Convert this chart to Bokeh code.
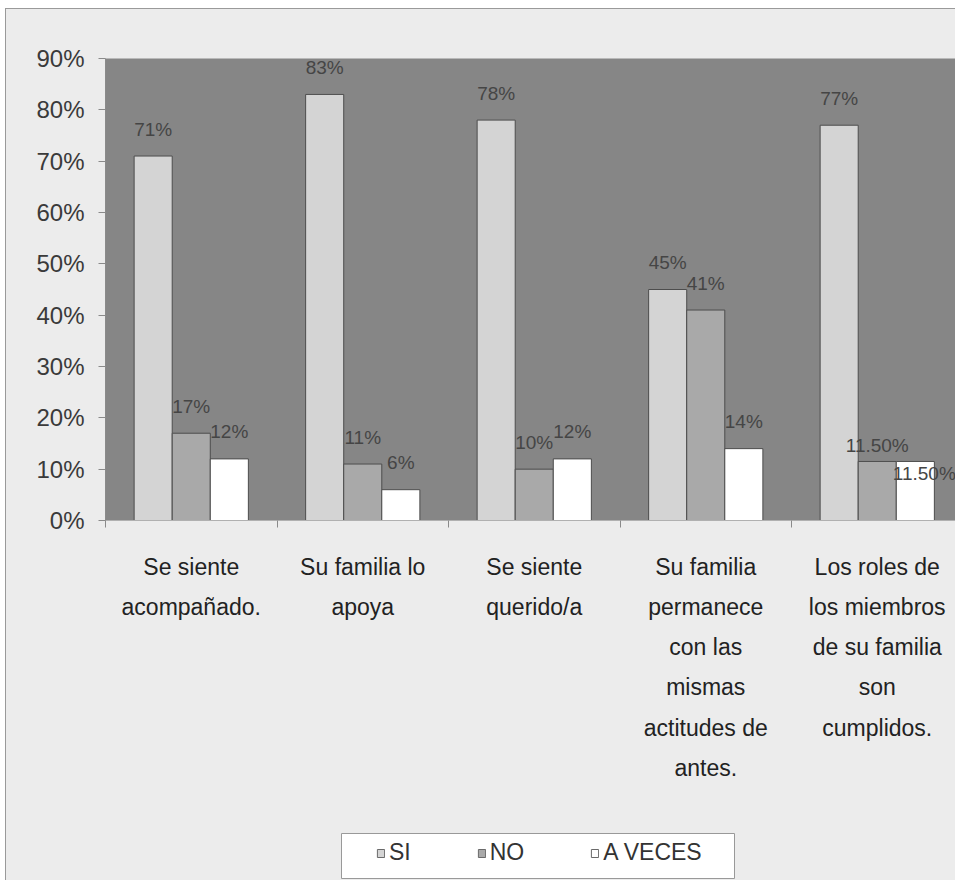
from bokeh.plotting import figure
from bokeh.layouts import column
from bokeh.core.properties import value
from bokeh.models import (Range1d, LinearAxis, FixedTicker, ColumnDataSource, LabelSet,
                          Legend, LegendItem, NumeralTickFormatter)
from bokeh.embed import file_html
from bokeh.resources import INLINE

categories = ["Se siente\nacompañado.", "Su familia lo\napoya", "Se siente\nquerido/a",
              "Su familia\npermanece\ncon las\nmismas\nactitudes de\nantes.",
              "Los roles de\nlos miembros\nde su familia\nson\ncumplidos."]
series_names = ["SI", "NO", "A VECES"]
si = [0.71, 0.83, 0.78, 0.45, 0.77]
no = [0.17, 0.11, 0.10, 0.41, 0.115]
a_veces = [0.12, 0.06, 0.12, 0.14, 0.115]
si_labels = ["71%", "83%", "78%", "45%", "77%"]
no_labels = ["17%", "11%", "10%", "41%", "11.50%"]
av_labels = ["12%", "6%", "12%", "14%", "11.50%"]
y_ticks = [0, 0.1, 0.2, 0.3, 0.4, 0.5, 0.6, 0.7, 0.8, 0.9]

FONT = "Liberation Sans"
BG = "#ececec"
colors = ["#d4d4d4", "#a9a9a9", "#ffffff"]
bar_w = 0.222
offsets = [-bar_w, 0.0, bar_w]
# label offsets in screen px (style): default 27 px above top
label_dy = [[27] * 5, [27, 27, 27, 27, 16], [27, 27, 27, 27, -12]]
label_dx = [[0] * 5, [0] * 5, [0, 0, 0, 0, 9]]

p = figure(width=950, height=820, output_backend="svg", toolbar_location=None,
           x_range=Range1d(0, 851 / 171.5), y_range=Range1d(0, 0.9),
           min_border_left=99, min_border_right=0, min_border_top=49, min_border_bottom=309,
           x_axis_type=None, y_axis_type=None)
p.background_fill_color = "#868686"
p.border_fill_color = BG
p.outline_line_color = None

yax = LinearAxis(ticker=FixedTicker(ticks=y_ticks), formatter=NumeralTickFormatter(format="0%"))
yax.major_label_text_font = FONT
yax.major_label_text_font_size = "24px"
yax.major_label_text_color = "#3a3a3a"
yax.major_tick_out = 7
yax.major_tick_in = 0
yax.minor_tick_line_color = None
yax.major_tick_line_color = "#8a8a8a"
yax.axis_line_color = "#8a8a8a"
yax.major_label_standoff = 14
p.add_layout(yax, "left")

tick_ax = LinearAxis(ticker=FixedTicker(ticks=[0, 1, 2, 3, 4, 5]),
                     major_label_overrides={i: "" for i in range(6)})
tick_ax.major_tick_out = 7
tick_ax.major_tick_in = 0
tick_ax.minor_tick_line_color = None
tick_ax.major_tick_line_color = "#8a8a8a"
tick_ax.axis_line_color = "#b0b0b0"
tick_ax.major_label_text_font_size = "1px"
tick_ax.major_label_standoff = 0
p.add_layout(tick_ax, "below")

centers = [i + 0.5 for i in range(len(categories))]
lab_ax = LinearAxis(ticker=FixedTicker(ticks=centers),
                    major_label_overrides={c: t for c, t in zip(centers, categories)})
lab_ax.axis_line_color = None
lab_ax.major_tick_line_color = None
lab_ax.minor_tick_line_color = None
lab_ax.major_label_text_font = FONT
lab_ax.major_label_text_font_size = "23px"
lab_ax.major_label_text_color = "#222222"
lab_ax.major_label_text_line_height = 1.55
lab_ax.major_label_standoff = 20
p.add_layout(lab_ax, "below")

p.ygrid.ticker = FixedTicker(ticks=y_ticks)
p.ygrid.grid_line_color = "#a2a2a2"
p.ygrid.grid_line_width = 1
p.xgrid.grid_line_color = None

# legend strip (frame is aligned with the chart frame; ranges in pixels)
pl = figure(width=950, height=52, output_backend="svg", toolbar_location=None,
            x_range=Range1d(0, 851), y_range=Range1d(0, 52),
            min_border=0, x_axis_type=None, y_axis_type=None)
pl.background_fill_color = BG
pl.border_fill_color = BG
pl.outline_line_color = None
pl.grid.grid_line_color = None
pl.quad(left=[236], right=[629], bottom=[3], top=[48], fill_color="#ffffff",
        line_color="#999999", line_width=1)

all_vals = [si, no, a_veces]
all_labels = [si_labels, no_labels, av_labels]
items = []
for k, (vals, labs) in enumerate(zip(all_vals, all_labels)):
    xs = [c + offsets[k] for c in centers]
    src = ColumnDataSource(dict(x=xs, top=vals, lab=labs, dy=label_dy[k], dx=label_dx[k]))
    p.vbar(x="x", top="top", width=bar_w, bottom=0, source=src,
           fill_color=colors[k], line_color="#4d4d4d", line_width=1)
    ls = LabelSet(x="x", y="top", text="lab", source=src, x_offset="dx", y_offset="dy",
                  text_align="center", text_baseline="middle", text_font=value(FONT),
                  text_font_size="19px", text_color="#454545")
    p.add_layout(ls)
    dummy = pl.vbar(x=[-1000], top=[-1000], bottom=[-1001], width=1, fill_color=colors[k],
                    line_color="#6a6a6a", line_width=1)
    items.append(LegendItem(label=series_names[k], renderers=[dummy]))

legend = Legend(items=items, orientation="horizontal", location=(271, 15))
legend.label_text_font = FONT
legend.label_text_font_size = "23px"
legend.label_text_color = "#333333"
legend.glyph_width = 9
legend.glyph_height = 10
legend.spacing = 66
legend.padding = 10
legend.margin = 0
legend.label_standoff = 4
legend.border_line_color = None
legend.background_fill_alpha = 0
pl.add_layout(legend, "center")

layout = column(p, pl, spacing=0, margin=(8, 0, 0, 5),
                styles={"border-top": "1px solid #9a9a9a", "border-left": "1px solid #9a9a9a",
                        "background-color": BG})

open("out.html", "w").write(file_html(layout, INLINE))
